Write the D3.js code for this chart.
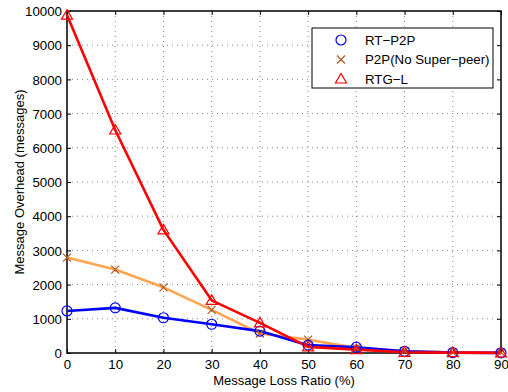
<!DOCTYPE html>
<html>
<head>
<meta charset="utf-8">
<script src="https://cdn.jsdelivr.net/npm/d3@7"></script>
<style>
  body { margin: 0; background: #fff; }
  text { font-family: "Liberation Sans", Arial, sans-serif; fill: #000; }
</style>
</head>
<body>
<script>
// Chart values
const lossRatio = [0, 10, 20, 30, 40, 50, 60, 70, 80, 90]
const rtP2P = [1230, 1320, 1030, 840, 640, 230, 170, 50, 10, 5]
const p2pNoSuper = [2790, 2440, 1920, 1260, 570, 390, 150, 60, 20, 10]
const rtgL = [9880, 6520, 3600, 1540, 880, 180, 100, 20, 10, 5]
const xTicks = [0, 10, 20, 30, 40, 50, 60, 70, 80, 90]
const yTicks = [0, 1000, 2000, 3000, 4000, 5000, 6000, 7000, 8000, 9000, 10000]

const series = [
	{ name: 'RT\u2212P2P', values: rtP2P, line: '#0000ff', mark: '#0000ff', shape: 'circle' },
	{ name: 'P2P(No Super\u2212peer)', values: p2pNoSuper, line: '#ffa552', mark: '#b4561e', shape: 'cross' },
	{ name: 'RTG\u2212L', values: rtgL, line: '#ff0000', mark: '#ff0000', shape: 'triangle' }
]

const W = 508, H = 392
const margin = { top: 11, bottom: 39, left: 67, right: 7 }
const width = W - margin.left - margin.right
const height = H - margin.top - margin.bottom
const fs = '13.3px'

const svg = d3.select('body').append('svg').attr('width', W).attr('height', H)
const g = svg.append('g').attr('transform', `translate(${margin.left},${margin.top})`)

const x = d3.scaleLinear().domain([0, 90]).range([0, width])
const y = d3.scaleLinear().domain([0, 10000]).range([height, 0])

// dotted grid
g.append('g').selectAll('line').data(xTicks.slice(1, -1)).join('line')
	.attr('x1', d => x(d)).attr('x2', d => x(d)).attr('y1', 0).attr('y2', height)
	.attr('stroke', '#888').attr('stroke-width', 1).attr('stroke-dasharray', '1,4')
g.append('g').selectAll('line').data(yTicks.slice(1, -1)).join('line')
	.attr('y1', d => y(d)).attr('y2', d => y(d)).attr('x1', 0).attr('x2', width)
	.attr('stroke', '#888').attr('stroke-width', 1).attr('stroke-dasharray', '1,4')

// axes, ticks pointing inward
const xaxis = d3.axisBottom(x).tickValues(xTicks).tickFormat(d3.format('d')).tickSizeInner(-4).tickSizeOuter(0).tickPadding(7)
const yaxis = d3.axisLeft(y).tickValues(yTicks).tickFormat(d3.format('d')).tickSizeInner(-4).tickSizeOuter(0).tickPadding(5)
const gx = g.append('g').attr('transform', `translate(0,${height})`).call(xaxis)
const gy = g.append('g').call(yaxis)
g.append('g').call(d3.axisTop(x).tickValues(xTicks).tickSizeInner(-4).tickSizeOuter(0).tickFormat(''))
g.append('g').attr('transform', `translate(${width},0)`)
	.call(d3.axisRight(y).tickValues(yTicks).tickSizeInner(-4).tickSizeOuter(0).tickFormat(''))
g.selectAll('.domain').remove()
g.selectAll('.tick line').attr('stroke', '#000')
gx.selectAll('text').style('font-size', fs).attr('fill', '#000')
gy.selectAll('text').style('font-size', fs).attr('fill', '#000').attr('dy', '0.36em')
g.selectAll('.tick text').style('font-family', '"Liberation Sans", Arial, sans-serif')

g.append('rect').attr('width', width).attr('height', height)
	.attr('fill', 'none').attr('stroke', '#000').attr('stroke-width', 1.5)

// lines
const line = d3.line().x((d, i) => x(lossRatio[i])).y(d => y(d))
const drawOrder = [1, 0, 2]
drawOrder.forEach(k => {
	const s = series[k]
	g.append('path').datum(s.values).attr('d', line)
		.attr('fill', 'none').attr('stroke', s.line).attr('stroke-width', 2.6)
		.attr('stroke-linejoin', 'round')
})

function marker(sel, shape, color) {
	if (shape === 'circle') {
		sel.append('circle').attr('r', 5).attr('fill', 'none').attr('stroke', color).attr('stroke-width', 1.2)
	} else if (shape === 'cross') {
		sel.append('path').attr('d', 'M-4,-4L4,4M-4,4L4,-4').attr('stroke', color).attr('stroke-width', 1.2)
	} else {
		sel.append('path').attr('d', 'M0,-5.5L5.5,4L-5.5,4Z').attr('fill', 'none').attr('stroke', color).attr('stroke-width', 1.2)
	}
}

drawOrder.forEach(k => {
	const s = series[k]
	g.append('g').selectAll('g').data(s.values).join('g')
		.attr('transform', (d, i) => `translate(${x(lossRatio[i])},${y(d)})`)
		.each(function () { marker(d3.select(this), s.shape, s.mark) })
})

// legend
const lg = svg.append('g').attr('transform', 'translate(312,28)')
lg.append('rect').attr('width', 181).attr('height', 60).attr('fill', '#fff').attr('stroke', '#000').attr('stroke-width', 1)
series.forEach((s, i) => {
	const row = lg.append('g').attr('transform', `translate(29,${12 + i * 19.5})`)
	marker(row, s.shape, s.mark)
	row.append('text').attr('x', 24).attr('y', 0).attr('dy', '0.36em').style('font-size', fs).text(s.name)
})

// axis labels
svg.append('text').attr('x', margin.left + width / 2).attr('y', 385).attr('text-anchor', 'middle')
	.style('font-size', '13px').text('Message Loss Ratio (%)')
svg.append('text').attr('transform', `translate(24,${margin.top + height / 2}) rotate(-90)`)
	.attr('text-anchor', 'middle').style('font-size', '13px').text('Message Overhead (messages)')
</script>
</body>
</html>
